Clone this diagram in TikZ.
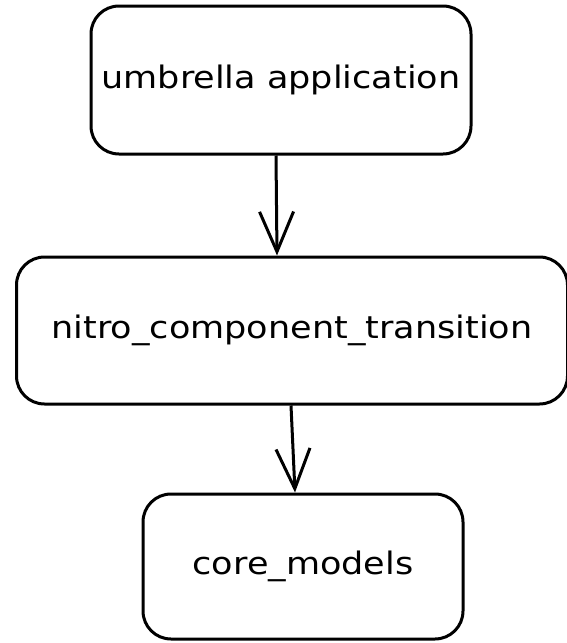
\documentclass[tikz,border=0pt]{standalone}
\usepackage{fontspec}
\setmainfont{DejaVu Sans}[FakeStretch=1.13]
\usetikzlibrary{positioning,arrows.meta}
\tikzset{
  module/.style={rectangle, rounded corners=28pt, fill=white, draw, line width=3pt, inner sep=0pt},
  dependsOn/.style={-{Straight Barb[length=40pt,width=34pt,line width=3pt]}, line width=3pt}
}
\begin{document}
\begin{tikzpicture}[x=1pt, y=-1pt, font={\fontsize{31}{36}\selectfont}]
      \useasboundingbox (0,0) rectangle (566,643);

      % modules
      \node[module, minimum width=380pt, minimum height=148pt] (umbrella) at (281,80) {umbrella application};
      \node[module, minimum width=551pt, minimum height=147pt] (transition) at (292,330.5) {nitro\_component\_transition};
      \node[module, minimum width=320pt, minimum height=145pt] (core) at (303,566.5) {core\_models};

      % dependencies
      \draw[dependsOn] (umbrella.south -| 276,0) -- (transition.north -| 277,0);
      \draw[dependsOn] (transition.south -| 291,0) -- (core.north -| 295,0);

    \end{tikzpicture}
\end{document}
